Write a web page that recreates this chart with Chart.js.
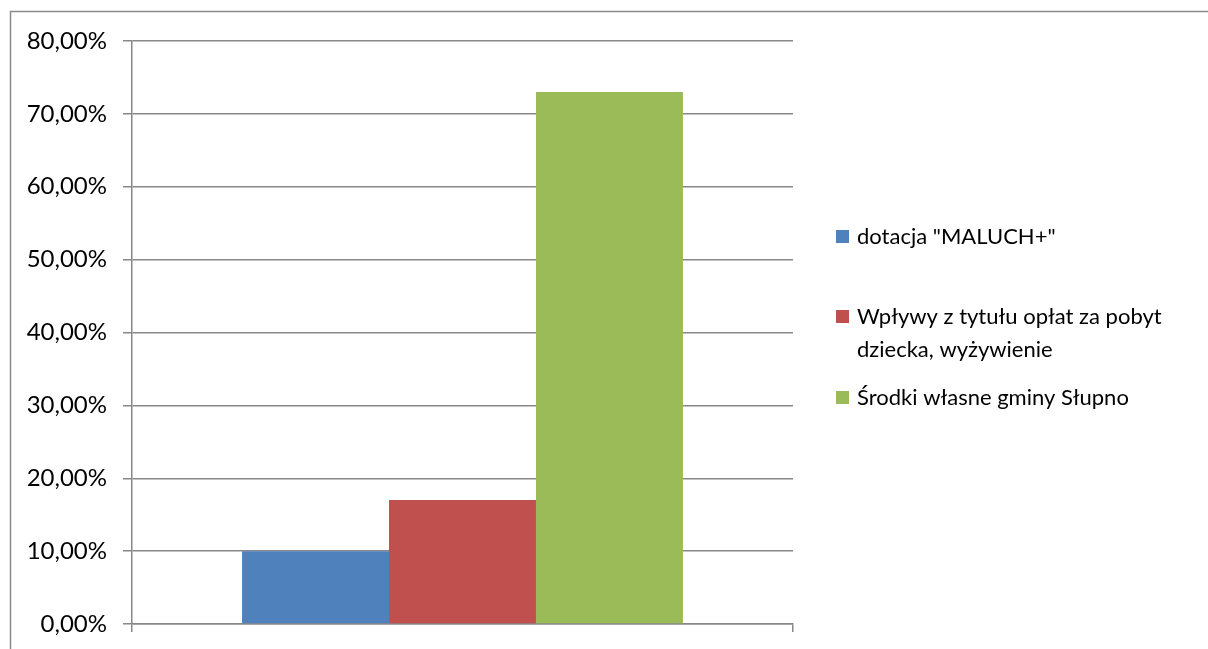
<!DOCTYPE html>
<html>
<head>
<meta charset="utf-8">
<script src="https://cdn.jsdelivr.net/npm/chart.js@4"></script>
<style>
  html, body { margin: 0; padding: 0; background: #fff; }
  #wrap { width: 1208px; height: 649px; position: relative; }
</style>
</head>
<body>
<div id="wrap"><canvas id="c" width="1208" height="649"></canvas></div>
<script>
// data
const categories = [''];
const seriesNames = ['dotacja "MALUCH+"', 'Wpływy z tytułu opłat za pobyt dziecka, wyżywienie', 'Środki własne gminy Słupno'];
const dotacjaValues = [10];
const wplywyValues = [17];
const srodkiValues = [73];
const seriesColors = ['#4F81BD', '#C0504D', '#9BBB59'];
const yMin = 0, yMax = 80, yStep = 10;

const gridColor = '#888888';

// outer chart frame (only left and top edges are visible in the window)
const framePlugin = {
	id: 'frame',
	beforeDraw(chart) {
		const ctx = chart.ctx;
		ctx.save();
		ctx.fillStyle = '#fff';
		ctx.fillRect(0, 0, chart.width, chart.height);
		ctx.strokeStyle = '#8a8a8a';
		ctx.lineWidth = 1.5;
		ctx.beginPath();
		ctx.moveTo(10.5, chart.height);
		ctx.lineTo(10.5, 11.5);
		ctx.lineTo(chart.width, 11.5);
		ctx.stroke();
		ctx.restore();
	}
};

// legend drawn by hand so the long label can wrap like in the original
const sideLegend = {
	id: 'sideLegend',
	afterDraw(chart, args, opts) {
		const ctx = chart.ctx;
		ctx.save();
		ctx.font = opts.font;
		ctx.textBaseline = 'alphabetic';
		chart.data.datasets.forEach(function(ds, i) {
			// wrap text to max width
			const words = ds.label.split(' ');
			let lines = [], cur = '';
			words.forEach(function(w) {
				const t = cur ? cur + ' ' + w : w;
				if (ctx.measureText(t).width > opts.maxWidth && cur) {
					lines.push(cur);
					cur = w;
				} else {
					cur = t;
				}
			});
			lines.push(cur);
			const y = opts.itemY[i];
			ctx.fillStyle = ds.backgroundColor;
			ctx.fillRect(opts.x, y - 14, 13, 13);
			ctx.fillStyle = '#000';
			lines.forEach(function(l, k) {
				ctx.fillText(l, opts.x + 21, y + k * opts.lineHeight);
			});
		});
		ctx.restore();
	}
};

const ctx = document.getElementById('c');
new Chart(ctx, {
	type: 'bar',
	data: {
		labels: categories,
		datasets: [
			{ label: seriesNames[0], data: dotacjaValues, backgroundColor: seriesColors[0] },
			{ label: seriesNames[1], data: wplywyValues, backgroundColor: seriesColors[1] },
			{ label: seriesNames[2], data: srodkiValues, backgroundColor: seriesColors[2] }
		]
	},
	options: {
		responsive: false,
		animation: false,
		layout: { padding: { top: 41, right: 415, bottom: 0, left: 0 } },
		datasets: { bar: { categoryPercentage: 0.667, barPercentage: 1.0, borderWidth: 0 } },
		plugins: {
			legend: { display: false },
			tooltip: { enabled: false },
			sideLegend: {
				x: 836,
				itemY: [244, 324, 405],
				lineHeight: 33,
				maxWidth: 345,
				font: '22px Lato'
			}
		},
		scales: {
			x: {
				ticks: { display: false },
				grid: { display: true, drawOnChartArea: false, drawTicks: true, tickLength: 8, color: gridColor, lineWidth: 1.5, offset: true },
				border: { display: true, color: gridColor, width: 1.5 },
				afterFit(scale) { scale.height = 25; }
			},
			y: {
				min: yMin,
				max: yMax,
				ticks: {
					stepSize: yStep,
					color: '#000',
					padding: 16,
					font: { family: 'Lato', size: 24 },
					callback: function(v) { return v.toFixed(2).replace('.', ',') + '%'; }
				},
				grid: { color: gridColor, lineWidth: 1.5, drawTicks: true, tickLength: 9 },
				border: { display: true, color: gridColor, width: 1.5 },
				afterFit(scale) {
					scale.width = 132;
					scale.paddingTop = 0;
					scale.paddingBottom = 0;
				}
			}
		}
	},
	plugins: [framePlugin, sideLegend]
});
</script>
</body>
</html>
